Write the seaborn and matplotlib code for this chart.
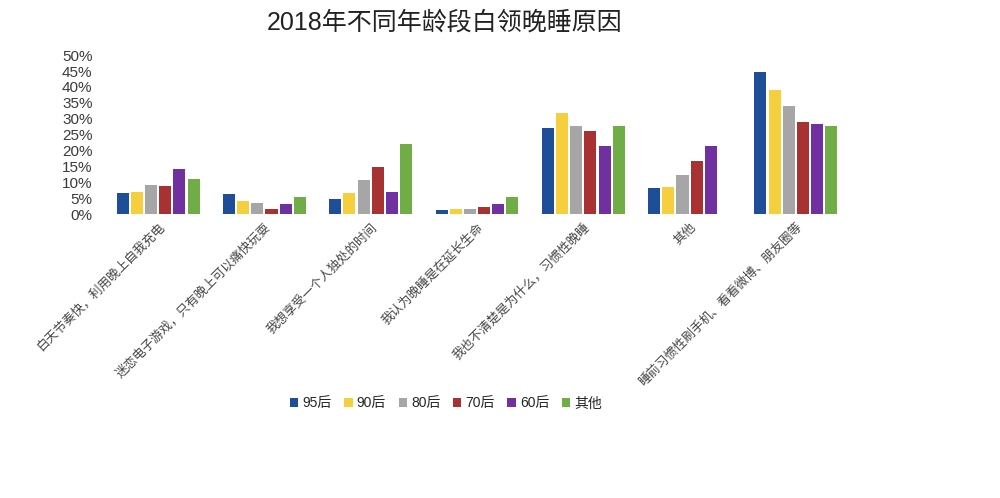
import matplotlib
matplotlib.use("Agg")
import matplotlib.pyplot as plt
import seaborn as sns
import pandas as pd
import numpy as np
from matplotlib.patches import Patch

categories = [
    "白天节奏快，利用晚上自我充电",
    "迷恋电子游戏，只有晚上可以痛快玩耍",
    "我想享受一个人独处的时间",
    "我认为晚睡是在延长生命",
    "我也不清楚是为什么，习惯性晚睡",
    "其他",
    "睡前习惯性刷手机、看看微博、朋友圈等",
]
series = ["95后", "90后", "80后", "70后", "60后", "其他"]
v95 = [6.8, 6.2, 4.8, 1.2, 27.2, 8.2, 44.8]
v90 = [7.0, 4.0, 6.8, 1.7, 31.9, 8.6, 39.0]
v80 = [9.3, 3.4, 10.8, 1.5, 27.8, 12.3, 34.0]
v70 = [8.8, 1.6, 14.8, 2.1, 26.2, 16.8, 29.0]
v60 = [14.1, 3.2, 6.9, 3.2, 21.3, 21.3, 28.5]
vother = [11.2, 5.4, 22.1, 5.4, 27.7, np.nan, 27.6]
colors = ["#1F4E99", "#F5CF3D", "#A6A6A6", "#A83232", "#7030A0", "#70AD47"]
yticks = [0, 5, 10, 15, 20, 25, 30, 35, 40, 45, 50]

sns.set_theme(style="white")
plt.rcParams["font.family"] = ["Liberation Sans", "Noto Sans CJK SC", "DejaVu Sans"]

rows = []
for s, vals in zip(series, [v95, v90, v80, v70, v60, vother]):
    for c, v in zip(categories, vals):
        rows.append({"原因": c, "年龄段": s, "比例": v})
df = pd.DataFrame(rows)

fig = plt.figure(figsize=(10, 4.98), dpi=100)
ax = fig.add_axes([0.105, 0.570, 0.744, 0.3193])
sns.barplot(data=df, x="原因", y="比例", hue="年龄段", order=categories,
            hue_order=series, palette=colors, saturation=1, width=0.8, gap=0.15,
            ax=ax, legend=False, edgecolor="none")
ax.set_xlim(-0.5, 6.5)
ax.set_ylim(0, 50)
ax.set_yticks(yticks)
ax.set_yticklabels([f"{t}%" for t in yticks], fontsize=11, color="#3a3a3a")
ax.tick_params(axis="y", length=0, pad=9)
ax.tick_params(axis="x", length=0, pad=5)
ax.set_xticks(range(len(categories)))
ax.set_xticklabels(categories, rotation=45, ha="right", rotation_mode="anchor",
                   fontsize=9, color="#444444")
for sp in ax.spines.values():
    sp.set_visible(False)
ax.set_xlabel("")
ax.set_ylabel("")

fig.text(0.445, 0.955, "2018年不同年龄段白领晚睡原因", ha="center", va="center",
         fontsize=18, color="#222222")

handles = [Patch(facecolor=c, edgecolor="none", label=s) for c, s in zip(colors, series)]
fig.legend(handles=handles, loc="center", bbox_to_anchor=(0.446, 0.19), ncol=6,
           frameon=False, fontsize=10, handlelength=0.6, handleheight=0.6,
           handletextpad=0.3, columnspacing=0.9)

fig.savefig("out.png", dpi=100)
